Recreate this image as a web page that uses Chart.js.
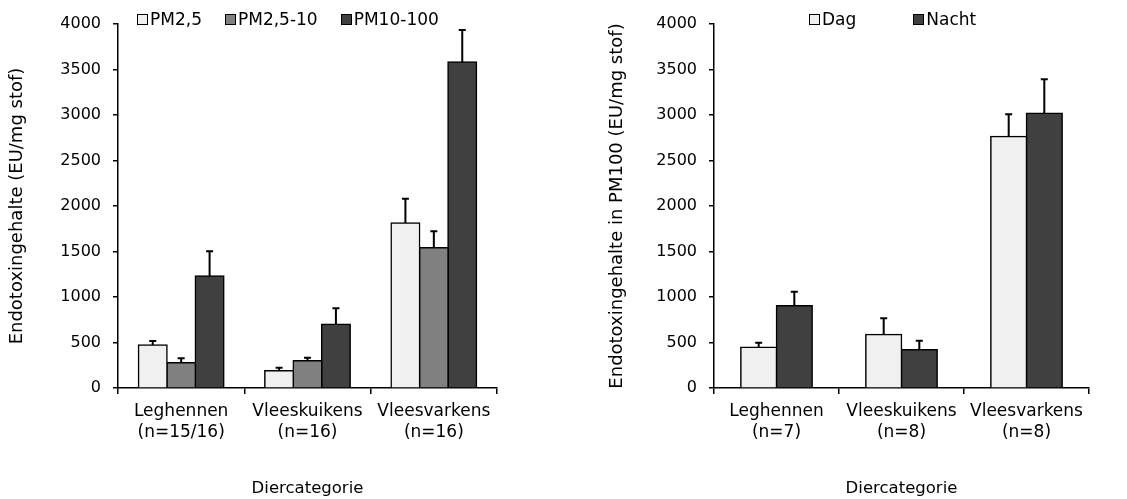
<!DOCTYPE html>
<html>
<head>
<meta charset="utf-8">
<script src="https://cdn.jsdelivr.net/npm/chart.js@4/dist/chart.umd.min.js"></script>
<style>
  html, body { margin: 0; padding: 0; background: #fff; }
  body { width: 1127px; height: 499px; position: relative; overflow: hidden; font-family: "DejaVu Sans", sans-serif; }
  .wrap { position: absolute; top: 0; height: 499px; }
  .legend { position: absolute; top: 9px; display: flex; font-size: 17px; color: #000; line-height: 20px; }
  .legend span.item { display: flex; align-items: center; }
  .legend i { display: inline-block; width: 9px; height: 9px; border: 1px solid #000; margin-right: 2px; }
</style>
</head>
<body>
<div class="wrap" style="left:0;width:560px"><canvas id="left"></canvas></div>
<div class="wrap" style="left:560px;width:567px"><canvas id="right"></canvas></div>
<div class="legend" id="legLeft" style="left:137px;gap:23px"></div>
<div class="legend" id="legRight" style="left:809px;gap:57px"></div>
<script>
// left chart: endotoxin per fraction
const leftLabels = [['Leghennen', '(n=15/16)'], ['Vleeskuikens', '(n=16)'], ['Vleesvarkens', '(n=16)']];
const pm25 = [472, 190, 1813];
const pm25Err = [44, 33, 267];
const pm2510 = [278, 300, 1542];
const pm2510Err = [48, 33, 180];
const pm10100 = [1230, 700, 3582];
const pm10100Err = [272, 176, 352];

// right chart: day / night
const rightLabels = [['Leghennen', '(n=7)'], ['Vleeskuikens', '(n=8)'], ['Vleesvarkens', '(n=8)']];
const dag = [447, 586, 2762];
const dagErr = [51, 180, 246];
const nacht = [904, 421, 3019];
const nachtErr = [154, 99, 373];

const LIGHT = '#f0f0f0', MID = '#808080', DARK = '#404040';
Chart.defaults.font.family = '"DejaVu Sans", sans-serif';
Chart.defaults.font.size = 16;
Chart.defaults.color = '#000';

const errorBars = {
  id: 'errorBars',
  afterDatasetsDraw(chart) {
    const ctx = chart.ctx;
    const y = chart.scales.y;
    ctx.save();
    ctx.strokeStyle = '#000';
    ctx.lineWidth = 2;
    chart.data.datasets.forEach((ds, i) => {
      const meta = chart.getDatasetMeta(i);
      meta.data.forEach((bar, j) => {
        const top = y.getPixelForValue(ds.data[j] + ds.errors[j]);
        ctx.beginPath();
        ctx.moveTo(bar.x, bar.y);
        ctx.lineTo(bar.x, top);
        ctx.moveTo(bar.x - 3.5, top);
        ctx.lineTo(bar.x + 3.5, top);
        ctx.stroke();
      });
    });
    ctx.restore();
  }
};

function makeChart(id, labels, datasets, yTitle, padLeft, yWidth, padRight, catPct) {
  return new Chart(document.getElementById(id), {
    type: 'bar',
    data: {
      labels: labels,
      datasets: datasets.map(d => ({
        label: d.label,
        data: d.data,
        errors: d.errors,
        backgroundColor: d.color,
        borderColor: '#000',
        borderWidth: 1.5,
        inflateAmount: 0.8,
        barPercentage: 1,
        categoryPercentage: catPct
      }))
    },
    options: {
      responsive: true,
      maintainAspectRatio: false,
      animation: false,
      layout: { padding: { left: padLeft, right: padRight, top: 24, bottom: 0 } },
      plugins: { legend: { display: false }, tooltip: { enabled: false } },
      scales: {
        x: {
          grid: { offset: true, drawOnChartArea: false, drawTicks: true, tickLength: 6, color: '#000', lineWidth: 1.5 },
          border: { color: '#000', width: 1.5 },
          ticks: { padding: 7, maxRotation: 0, autoSkip: false, font: { size: 17, lineHeight: 1.25 } },
          title: { display: true, text: 'Diercategorie', padding: { top: 0, bottom: 0 }, font: { size: 16.5 } },
          afterFit(scale) { scale.height = 111; }
        },
        y: {
          min: 0,
          max: 4000,
          ticks: { stepSize: 500, padding: 12, callback: v => String(v) },
          grid: { drawOnChartArea: false, drawTicks: true, tickLength: 5, color: '#000', lineWidth: 1.5 },
          border: { color: '#000', width: 1.5 },
          title: { display: true, text: yTitle, padding: { top: 0, bottom: 0 }, font: { size: 18 } },
          afterFit(scale) { scale.width = yWidth; }
        }
      }
    },
    plugins: [errorBars]
  });
}

const leftSets = [
  { label: 'PM2,5', data: pm25, errors: pm25Err, color: LIGHT },
  { label: 'PM2,5-10', data: pm2510, errors: pm2510Err, color: MID },
  { label: 'PM10-100', data: pm10100, errors: pm10100Err, color: DARK }
];
const rightSets = [
  { label: 'Dag', data: dag, errors: dagErr, color: LIGHT },
  { label: 'Nacht', data: nacht, errors: nachtErr, color: DARK }
];

makeChart('left', leftLabels, leftSets, 'Endotoxingehalte (EU/mg stof)', 7, 111, 63, 0.675);
makeChart('right', rightLabels, rightSets, 'Endotoxingehalte in PM100 (EU/mg stof)', 47, 107, 38, 0.57);

function legend(id, sets) {
  const el = document.getElementById(id);
  sets.forEach(s => {
    const item = document.createElement('span');
    item.className = 'item';
    const box = document.createElement('i');
    box.style.background = s.color;
    item.appendChild(box);
    item.appendChild(document.createTextNode(s.label));
    el.appendChild(item);
  });
}
legend('legLeft', leftSets);
legend('legRight', rightSets);
</script>
</body>
</html>
